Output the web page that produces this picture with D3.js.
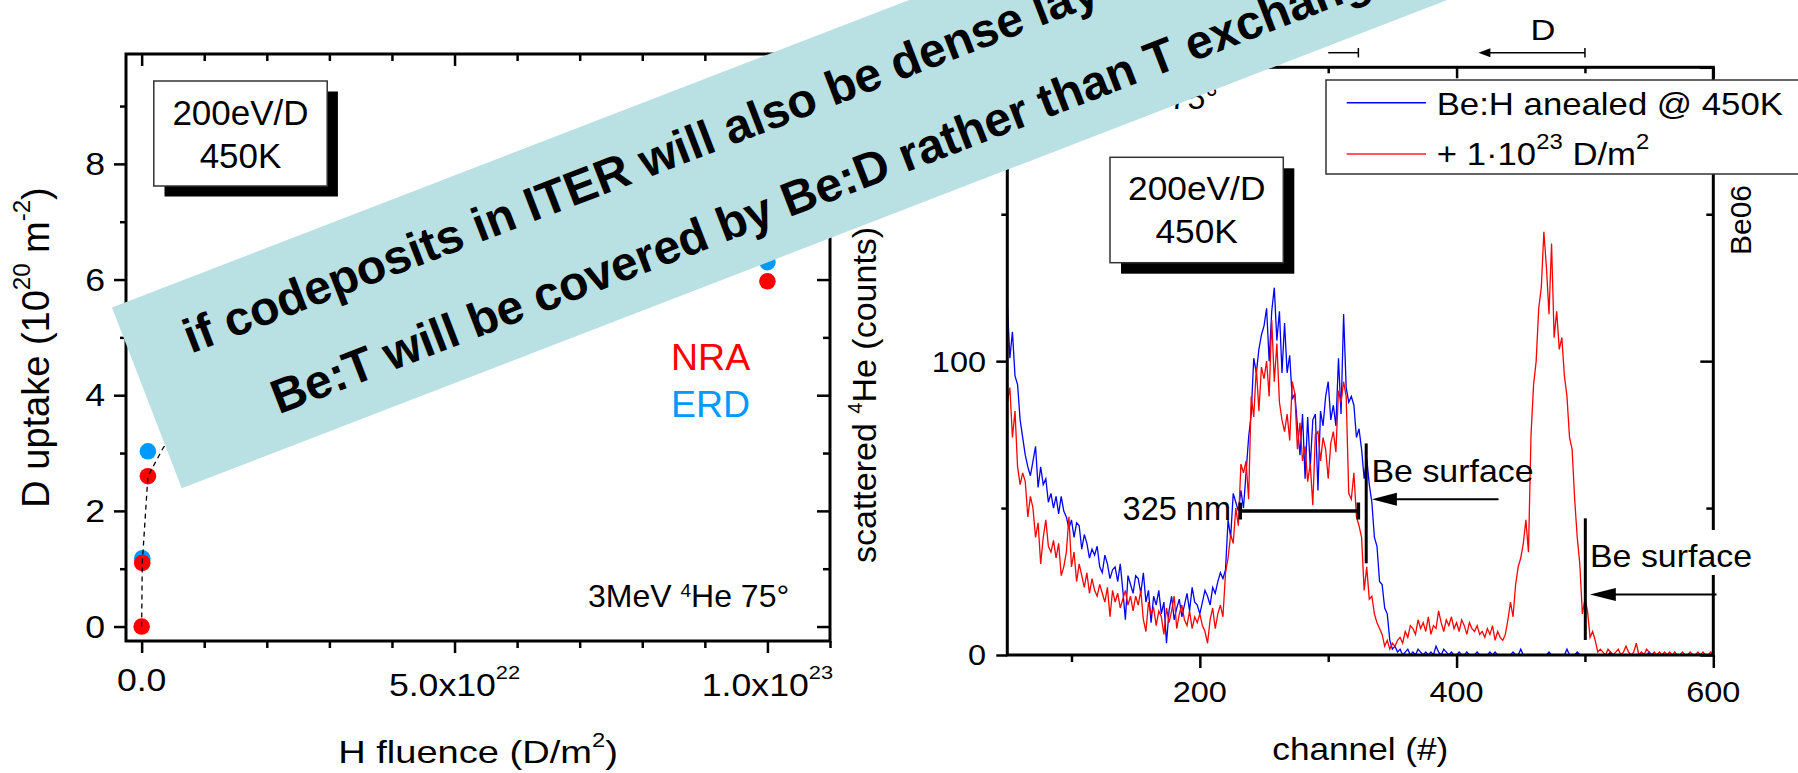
<!DOCTYPE html>
<html><head><meta charset="utf-8">
<script src="https://cdn.jsdelivr.net/npm/d3@7"></script>
<style>
html,body{margin:0;padding:0;background:#fff;}
svg{display:block;font-family:"Liberation Sans",Arial,sans-serif;}
</style></head><body>
<svg id="c" width="1798" height="773"></svg>
<script>
// ---------------- DATA ----------------
// Left panel: D uptake vs H fluence
const fluenceNRA = [0, 1e20, 1e21, 1e23];
const uptakeNRA  = [0, 1.1, 2.6, 5.97];
const fluenceERD = [1e20, 1e21, 1e23];
const uptakeERD  = [1.18, 3.03, 6.3];
const guideFluence = [0, 1e20, 1e21, 3.5e21, 1e22, 2e22];
const guideUptake  = [0, 1.1, 2.6, 3.1, 3.9, 4.5];
const leftXTicks = [0, 5e22, 1e23];
const leftXTickText = ['0.0', '5.0x10^{22}', '1.0x10^{23}'];
const leftXMinor = [1e22, 2e22, 3e22, 4e22, 6e22, 7e22, 8e22, 9e22, 1.1e23];
const leftYTicks = [0, 2, 4, 6, 8];
const leftYMinor = [1, 3, 5, 7, 9];

// Right panel: RBS spectra (channel 50..600, every 2nd channel)
const channelFirst = 50, channelStep = 2;
const countsAnnealed = [
120,101,110,95,92,80,74,68,64,61,66,71,57,64,58,60,52,55,50,54,48,54,49,47,43,46,
40,45,44,36,41,38,33,36,34,37,30,28,34,31,26,29,30,25,31,22,12,27,24,21,27,
26,21,28,18,22,11,20,17,22,14,18,4,15,20,12,16,19,13,17,21,15,23,18,17,14,
18,22,20,17,23,21,25,28,26,29,46,40,55,52,49,56,50,62,74,82,
101,96,104,109,112,118,100,117,125,107,117,96,113,96,102,87,89,78,68,82,60,81,64,80,82,56,83,78,88,93,
80,85,78,101,82,116,91,86,88,85,74,77,70,60,67,58,52,40,37,25,24,16,14,5,2,
3,1,2,0,1,2,0,1,0,2,1,0,1,0,1,0,3,1,0,2,1,0,1,0,0,
1,0,0,1,0,0,0,1,0,0,0,0,1,0,1,0,0,0,0,0,0,1,0,0,2,
0,0,0,0,0,0,0,0,0,0,1,0,0,0,0,0,0,2,0,0,0,1,0,0,0,
0,0,0,0,0,0,0,0,0,1,0,0,0,0,0,0,0,0,0,0,0,0,0,0,1,
0,0,0,0,0,0,0,0,0,0,0,0,0,0,0,0,0,0,0,0,0,0,0,0,0
];
const countsImplanted = [
86,91,74,83,64,58,62,59,47,54,50,40,45,31,40,46,37,35,39,33,38,27,30,35,47,30,
35,25,31,27,23,28,21,26,22,20,24,21,18,23,13,22,18,21,16,19,22,17,20,15,20,
17,22,12,8,18,14,16,10,15,13,7,16,11,15,20,9,14,17,12,10,15,9,13,11,14,
10,8,4,12,16,9,14,17,13,28,33,41,38,50,44,65,62,66,53,88,
81,98,83,98,94,100,88,114,93,106,86,80,76,82,73,93,89,70,79,66,71,59,65,51,75,76,66,74,70,60,
72,76,69,90,86,93,88,55,53,62,47,44,40,22,30,19,20,14,11,9,7,3,5,2,4,
3,5,6,4,8,6,10,9,7,12,9,11,8,13,7,10,9,15,11,8,12,10,13,9,11,8,12,10,7,11,9,8,10,7,8,6,9,7,10,5,8,6,5,7,12,
18,13,24,30,33,38,46,35,75,92,100,118,125,144,132,116,140,108,117,104,108,95,88,74,70,53,40,31,14,19,15,6,8,5,1,2,
1,0,2,1,0,1,2,0,1,3,1,0,1,4,0,1,0,2,1,0,1,0,1,0,1,0,1,0,1,0,0,1,0,0,1,0,0,1,0,1,0,0,1,0
];
const rightXTicks = [200, 400, 600];
const rightXMinor = [100, 300, 500];
const rightYTicks = [0, 100, 200];
const rightYMinor = [50, 150];
const legendLabels = ['Be:H anealed @ 450K', '+ 1\u00B710^{23} D/m^{2}'];
const bannerLines = ['if codeposits in ITER will also be dense layers',
                     'Be:T will be covered by Be:D rather than T exchange'];

// ---------------- HELPERS ----------------
const svg = d3.select('#c');
function parse(s){
  const parts=[]; const re=/\^\{([^}]*)\}/g; let last=0,m;
  while((m=re.exec(s))){ if(m.index>last) parts.push({t:s.slice(last,m.index)}); parts.push({t:m[1],sup:true}); last=re.lastIndex; }
  if(last<s.length) parts.push({t:s.slice(last)});
  return parts;
}
function rich(parent, x, y, str, o){
  const size=o.size, supSize=Math.round(size*(o.supScale||0.62)), rise=Math.round(size*(o.rise||0.5));
  let tf=`translate(${x},${y})`;
  if(o.rotate) tf+=` rotate(${o.rotate})`;
  if(o.sx && o.sx!==1) tf+=` scale(${o.sx},1)`;
  const t=parent.append('text').attr('transform',tf).attr('font-size',size)
    .attr('text-anchor',o.anchor||'start').attr('fill',o.fill||'#000');
  if(o.weight) t.attr('font-weight',o.weight);
  let shift=0;
  parse(str).forEach(p=>{
    const s=t.append('tspan').text(p.t);
    const target=p.sup?-rise:0;
    if(target!==shift){ s.attr('dy',target-shift); shift=target; }
    if(p.sup) s.attr('font-size',supSize);
  });
  return t;
}
function ticks(g, axis, tx, ty, w){
  const a=g.append('g').attr('transform',`translate(${tx},${ty})`).call(axis.tickFormat(''));
  a.select('.domain').remove();
  a.selectAll('line').attr('stroke','#000').attr('stroke-width',w||2.5);
  a.selectAll('text').remove();
}
function arrowH(g, xFrom, xTip, y, len, half, w){
  g.append('line').attr('x1',xFrom).attr('x2',xTip+len*0.8).attr('y1',y).attr('y2',y)
   .attr('stroke','#000').attr('stroke-width',w);
  g.append('path').attr('d',`M${xTip},${y}L${xTip+len},${y-half}L${xTip+len},${y+half}Z`).attr('fill','#000');
}

// ---------------- LEFT PANEL ----------------
const xL=d3.scaleLinear().domain([-2.5e21,1.1e23]).range([126,830]);
const yL=d3.scaleLinear().domain([-0.25,9.9]).range([641,54]);
const gL=svg.append('g');
const [lx0,lx1]=xL.range(), [ly0,ly1]=yL.range();
gL.append('rect').attr('x',lx0).attr('y',ly1).attr('width',lx1-lx0).attr('height',ly0-ly1)
  .attr('fill','none').attr('stroke','#000').attr('stroke-width',3);
ticks(gL,d3.axisBottom(xL).tickValues(leftXTicks).tickSize(12),0,ly0);
ticks(gL,d3.axisBottom(xL).tickValues(leftXMinor).tickSize(7),0,ly0);
ticks(gL,d3.axisBottom(xL).tickValues(leftXTicks).tickSize(12),0,ly1);
ticks(gL,d3.axisBottom(xL).tickValues(leftXMinor).tickSize(7),0,ly1);
ticks(gL,d3.axisLeft(yL).tickValues(leftYTicks).tickSize(12),lx0,0);
ticks(gL,d3.axisLeft(yL).tickValues(leftYMinor).tickSize(6),lx0,0);
ticks(gL,d3.axisLeft(yL).tickValues(leftYTicks).tickSize(13),lx1,0);
ticks(gL,d3.axisLeft(yL).tickValues(leftYMinor).tickSize(7),lx1,0);
leftYTicks.forEach(v=>rich(gL,105,yL(v)+11,String(v),{size:31,anchor:'end',sx:1.15}));
leftXTicks.forEach((v,i)=>rich(gL,xL(v),i===0?691:696,leftXTickText[i],{size:31,anchor:'middle',sx:1.15,supScale:0.6,rise:0.54}));
rich(gL,49,(ly0+ly1)/2,'D uptake (10^{20} m^{-2})',{size:38,anchor:'middle',rotate:-90,supScale:0.62,rise:0.5});
rich(gL,(lx0+lx1)/2,763,'H fluence (D/m^{2})',{size:32,anchor:'middle',sx:1.19,supScale:0.62,rise:0.5});

// markers
gL.selectAll('circle.erd').data(fluenceERD).join('circle').attr('class','erd')
  .attr('cx',d=>xL(d)).attr('cy',(d,i)=>yL(uptakeERD[i])).attr('r',8.3).attr('fill','#0099ff');
gL.selectAll('circle.nra').data(fluenceNRA).join('circle').attr('class','nra')
  .attr('cx',d=>xL(d)).attr('cy',(d,i)=>yL(uptakeNRA[i])).attr('r',8.3).attr('fill','#ff0000');
gL.append('path').datum(guideFluence)
  .attr('d',d3.line().x(d=>xL(d)).y((d,i)=>yL(guideUptake[i])))
  .attr('fill','none').attr('stroke','#000').attr('stroke-width',1.3).attr('stroke-dasharray','5,4');

// annotations left
gL.append('rect').attr('x',164.5).attr('y',91.5).attr('width',173.4).attr('height',105).attr('fill','#000');
gL.append('rect').attr('x',153.8).attr('y',81).attr('width',173.4).attr('height',105).attr('fill','#fff').attr('stroke','#333').attr('stroke-width',1.5);
rich(gL,240.5,125,'200eV/D',{size:35,anchor:'middle'});
rich(gL,240.5,168.3,'450K',{size:35,anchor:'middle'});
rich(gL,671,370,'NRA',{size:37.5,fill:'#ff0000'});
rich(gL,671,416.7,'ERD',{size:37.5,fill:'#0099ff'});
rich(gL,588,606.7,'3MeV ^{4}He 75\u00B0',{size:32,supScale:0.6,rise:0.32});

// ---------------- RIGHT PANEL ----------------
const xR=d3.scaleLinear().domain([50,600]).range([1007.3,1713.3]);
const yR=d3.scaleLinear().domain([0,200]).range([655,67.3]);
const gR=svg.append('g');
const [rx0,rx1]=xR.range(), [ry0,ry1]=yR.range();
const channels=countsAnnealed.map((d,i)=>channelFirst+channelStep*i);

gR.append('path').datum(countsAnnealed)
  .attr('d',d3.line().x((d,i)=>xR(channels[i])).y(d=>yR(d)))
  .attr('fill','none').attr('stroke','#0000ff').attr('stroke-width',1.3);
gR.append('path').datum(countsImplanted)
  .attr('d',d3.line().x((d,i)=>xR(channels[i])).y(d=>yR(d)))
  .attr('fill','none').attr('stroke','#ff0000').attr('stroke-width',1.3);

gR.append('rect').attr('x',rx0).attr('y',ry1).attr('width',rx1-rx0).attr('height',ry0-ry1)
  .attr('fill','none').attr('stroke','#000').attr('stroke-width',3);
ticks(gR,d3.axisBottom(xR).tickValues(rightXTicks).tickSize(13),0,ry0);
ticks(gR,d3.axisBottom(xR).tickValues(rightXMinor).tickSize(7),0,ry0);
ticks(gR,d3.axisBottom(xR).tickValues(rightXTicks).tickSize(11),0,ry1);
ticks(gR,d3.axisBottom(xR).tickValues(rightXMinor).tickSize(6),0,ry1);
ticks(gR,d3.axisLeft(yR).tickValues(rightYTicks).tickSize(11),rx0,0);
ticks(gR,d3.axisLeft(yR).tickValues(rightYMinor).tickSize(6),rx0,0);
ticks(gR,d3.axisLeft(yR).tickValues(rightYTicks).tickSize(13),rx1,0);
ticks(gR,d3.axisLeft(yR).tickValues(rightYMinor).tickSize(7),rx1,0);
rightYTicks.forEach(v=>rich(gR,986,yR(v)+10.4,String(v),{size:29,anchor:'end',sx:1.12}));
rightXTicks.forEach(v=>rich(gR,xR(v),701.7,String(v),{size:29,anchor:'middle',sx:1.12}));
rich(gR,(rx0+rx1)/2,760,'channel (#)',{size:32,anchor:'middle',sx:1.1});
rich(gR,876,563,'scattered ^{4}He (counts)',{size:34,rotate:-90,supScale:0.6,rise:0.4});

// top energy markers
gR.append('line').attr('x1',xR(300)).attr('x2',xR(323.5)).attr('y1',52.7).attr('y2',52.7).attr('stroke','#000').attr('stroke-width',1.5);
gR.append('line').attr('x1',xR(323.5)).attr('x2',xR(323.5)).attr('y1',48).attr('y2',57.5).attr('stroke','#000').attr('stroke-width',1.5);
rich(gR,xR(285),40,'H',{size:30,anchor:'middle',sx:1.15});
arrowH(gR,xR(500),xR(417),52.7,12,4.5,1.5);
gR.append('line').attr('x1',xR(500)).attr('x2',xR(500)).attr('y1',48).attr('y2',57.5).attr('stroke','#000').attr('stroke-width',1.5);
rich(gR,1543,40,'D',{size:30,anchor:'middle',sx:1.15});
rich(gR,1218,109,'3MeV ^{4}He 75\u00B0',{size:32,anchor:'end',supScale:0.6,rise:0.32});

// 200eV box
gR.append('rect').attr('x',1121).attr('y',168.3).attr('width',173.3).attr('height',105.4).attr('fill','#000');
gR.append('rect').attr('x',1110).attr('y',157.3).attr('width',173.3).attr('height',105.4).attr('fill','#fff').attr('stroke','#333').attr('stroke-width',1.5);
rich(gR,1196.7,200,'200eV/D',{size:33,anchor:'middle',sx:1.07});
rich(gR,1196.7,243.3,'450K',{size:33,anchor:'middle',sx:1.07});

// 325 nm bracket
gR.append('line').attr('x1',xR(231.5)).attr('x2',xR(323.5)).attr('y1',yR(49)).attr('y2',yR(49)).attr('stroke','#000').attr('stroke-width',3.5);
[231.5,323.5].forEach(c=>gR.append('line').attr('x1',xR(c)).attr('x2',xR(c)).attr('y1',yR(49)-8.5).attr('y2',yR(49)+8.5).attr('stroke','#000').attr('stroke-width',3.5));
rich(gR,1231,520,'325 nm',{size:32.5,anchor:'end'});

// Be surface 1
gR.append('line').attr('x1',xR(329.6)).attr('x2',xR(329.6)).attr('y1',yR(72)).attr('y2',yR(31.2)).attr('stroke','#000').attr('stroke-width',3);
rich(gR,1371.5,481.7,'Be surface',{size:32,sx:1.06});
arrowH(gR,xR(432.7),xR(334),yR(53),25,6.5,2);

// Be surface 2
gR.append('line').attr('x1',xR(500.3)).attr('x2',xR(500.3)).attr('y1',yR(46.5)).attr('y2',yR(5.1)).attr('stroke','#000').attr('stroke-width',3);
gR.append('rect').attr('x',1589).attr('y',530).attr('width',165).attr('height',45).attr('fill','#fff');
rich(gR,1590,566.7,'Be surface',{size:32,sx:1.06});
arrowH(gR,xR(602.5),xR(503.8),yR(20.6),26,6.5,2);

// legend
const gLeg=gR.append('g');
gLeg.append('rect').attr('x',1326).attr('y',80).attr('width',520).attr('height',94).attr('fill','#fff').attr('stroke','#333').attr('stroke-width',1.5);
gLeg.append('line').attr('x1',1346.7).attr('x2',1426).attr('y1',102.7).attr('y2',102.7).attr('stroke','#0000ff').attr('stroke-width',1.5);
gLeg.append('line').attr('x1',1346.7).attr('x2',1426).attr('y1',154).attr('y2',154).attr('stroke','#ff2020').attr('stroke-width',1.5);
rich(gLeg,1436.7,115,legendLabels[0],{size:32,sx:1.086});
rich(gLeg,1436.7,165,legendLabels[1],{size:32,sx:1.086,supScale:0.7,rise:0.5});
rich(gR,1751,220,'Be06',{size:30,anchor:'middle',rotate:-90});

// ---------------- BANNER ----------------
const gb=svg.append('g').attr('transform','translate(112,307.6) rotate(-21.1)');
gb.append('rect').attr('x',0).attr('y',0).attr('width',2300).attr('height',193.7).attr('fill','#b9e0e3');
gb.append('text').attr('x',57).attr('y',71.6).attr('font-size',48).attr('font-weight','bold').attr('fill','#000').text(bannerLines[0]);
gb.append('text').attr('x',117).attr('y',159.7).attr('font-size',48).attr('font-weight','bold').attr('fill','#000').text(bannerLines[1]);
</script>
</body></html>
